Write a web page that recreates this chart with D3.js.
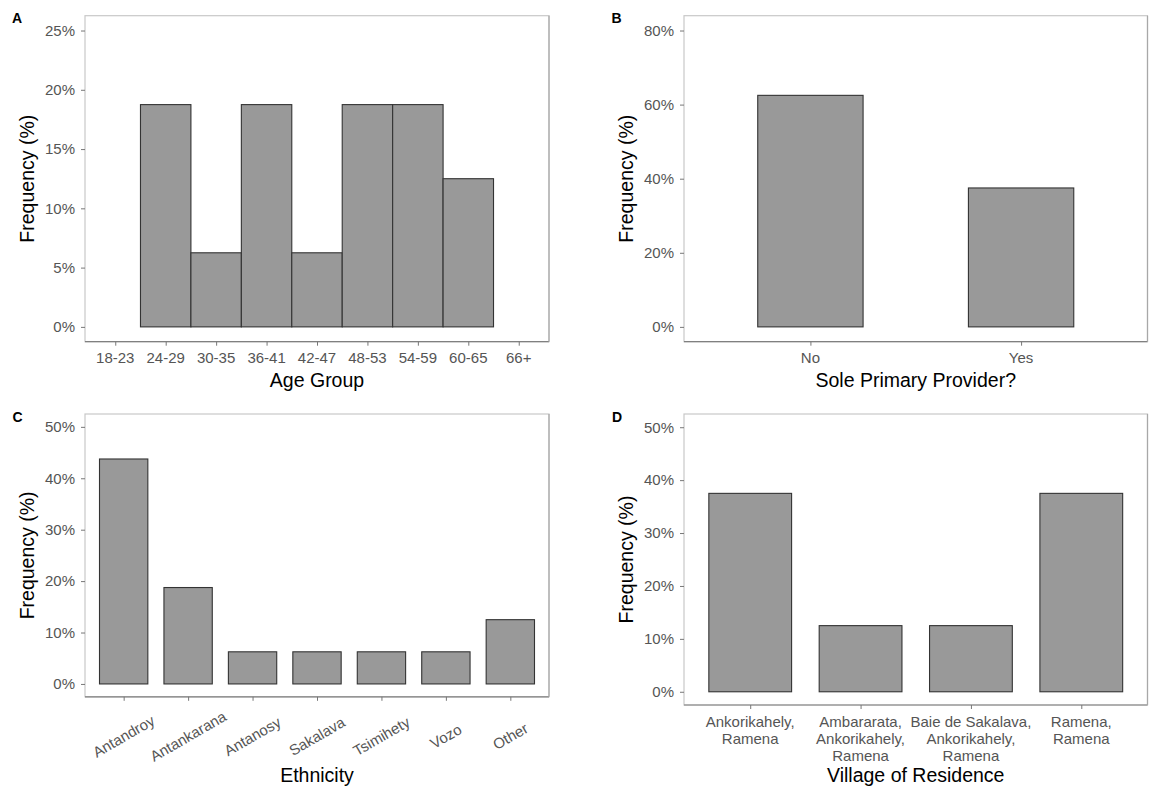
<!DOCTYPE html>
<html>
<head>
<meta charset="utf-8">
<script src="https://cdn.jsdelivr.net/npm/d3@7"></script>
<style>
  html, body { margin: 0; padding: 0; background: #fff; }
  svg { display: block; font-family: "Liberation Sans", Arial, sans-serif; }
</style>
</head>
<body>
<svg id="chart" width="1149" height="789"></svg>
<script>
// Age group distribution (%)
const ageGroups = ["18-23", "24-29", "30-35", "36-41", "42-47", "48-53", "54-59", "60-65", "66+"];
const agePct = [0, 18.75, 6.25, 18.75, 6.25, 18.75, 18.75, 12.5, 0];
const ageTicks = [0, 5, 10, 15, 20, 25];

// Sole primary provider (%)
const providerCats = ["No", "Yes"];
const providerPct = [62.5, 37.5];
const providerTicks = [0, 20, 40, 60, 80];

// Ethnicity (%)
const ethnicities = ["Antandroy", "Antankarana", "Antanosy", "Sakalava", "Tsimihety", "Vozo", "Other"];
const ethnicityPct = [43.75, 18.75, 6.25, 6.25, 6.25, 6.25, 12.5];
const ethnicityTicks = [0, 10, 20, 30, 40, 50];

// Village of residence (%), labels split over lines
const villages = [
  ["Ankorikahely,", "Ramena"],
  ["Ambararata,", "Ankorikahely,", "Ramena"],
  ["Baie de Sakalava,", "Ankorikahely,", "Ramena"],
  ["Ramena,", "Ramena"]
];
const villagePct = [37.5, 12.5, 12.5, 37.5];
const villageTicks = [0, 10, 20, 30, 40, 50];

const svg = d3.select("#chart");
const TICK_GREY = "#555";

function panel(cfg) {
  const { tag, cats, values, ticks, yMax, box, barWidth, xTitle, labelMode } = cfg;
  const g = svg.append("g");
  const keys = cats.map((c, i) => i);

  const x = d3.scalePoint().domain(keys).range([box.left, box.right]).padding(0.6);
  const pad = (box.bottom - box.top) * 0.05 / 1.1;
  const y = d3.scaleLinear().domain([0, yMax]).range([box.bottom - pad, box.top + pad]);
  const bw = x.step() * barWidth;

  // bars
  g.selectAll("rect.bar")
    .data(keys.filter(i => values[i] > 0))
    .join("rect")
    .attr("class", "bar")
    .attr("x", i => x(i) - bw / 2)
    .attr("y", i => y(values[i]))
    .attr("width", bw)
    .attr("height", i => y(0) - y(values[i]))
    .attr("fill", "#999999")
    .attr("stroke", "#333333")
    .attr("stroke-width", 1.1);

  // panel border
  g.append("rect")
    .attr("x", box.left).attr("y", box.top)
    .attr("width", box.right - box.left).attr("height", box.bottom - box.top)
    .attr("fill", "none").attr("stroke", "#c8c8c8").attr("stroke-width", 1.2);
  g.append("line")
    .attr("x1", box.left).attr("x2", box.right)
    .attr("y1", box.bottom).attr("y2", box.bottom)
    .attr("stroke", "#808080").attr("stroke-width", 1.2);
  g.append("line")
    .attr("x1", box.right).attr("x2", box.right)
    .attr("y1", box.top).attr("y2", box.bottom)
    .attr("stroke", "#a8a8a8").attr("stroke-width", 1.2);

  // y axis
  const yAxis = d3.axisLeft(y).tickValues(ticks).tickSize(4).tickPadding(6)
    .tickFormat(d => d + "%");
  const yg = g.append("g").attr("transform", `translate(${box.left},0)`).call(yAxis);
  yg.select(".domain").remove();
  yg.selectAll(".tick line").attr("stroke", "#777");
  yg.selectAll(".tick text").attr("fill", TICK_GREY).style("font-size", "15px")
    .style("font-family", "'Liberation Sans', Arial, sans-serif");

  // x axis
  const xAxis = d3.axisBottom(x).tickSize(4).tickFormat(() => "");
  const xg = g.append("g").attr("transform", `translate(0,${box.bottom})`).call(xAxis);
  xg.select(".domain").remove();
  xg.selectAll(".tick line").attr("stroke", "#777");
  xg.selectAll(".tick text").remove();

  const lab = g.append("g").attr("fill", TICK_GREY).style("font-size", "15px");
  if (labelMode === "plain") {
    lab.selectAll("text").data(keys).join("text")
      .attr("x", i => x(i)).attr("y", box.bottom + 21)
      .attr("text-anchor", "middle")
      .text(i => cats[i]);
  } else if (labelMode === "rotated") {
    lab.selectAll("text").data(keys).join("text")
      .attr("transform", i => `translate(${x(i)},${box.bottom + 39.5}) rotate(-30)`)
      .attr("text-anchor", "middle")
      .attr("dy", "0.35em")
      .text(i => cats[i]);
  } else if (labelMode === "multiline") {
    const t = lab.selectAll("text").data(keys).join("text")
      .attr("text-anchor", "middle");
    t.selectAll("tspan").data(i => cats[i].map(s => ({ s, i }))).join("tspan")
      .attr("x", d => x(d.i))
      .attr("y", (d, j) => box.bottom + 22 + j * 17)
      .text(d => d.s);
  }

  // axis titles
  g.append("text")
    .attr("x", (box.left + box.right) / 2).attr("y", cfg.xTitleY)
    .attr("text-anchor", "middle").attr("fill", "#000")
    .style("font-size", "19.5px")
    .text(xTitle);
  g.append("text")
    .attr("transform", `translate(${box.left - 58},${(box.top + box.bottom) / 2}) rotate(-90)`)
    .attr("text-anchor", "middle").attr("dy", "0.35em").attr("fill", "#000")
    .style("font-size", "19.5px")
    .text("Frequency (%)");

  // panel tag
  g.append("text")
    .attr("x", cfg.tagX).attr("y", box.top + 7.5)
    .attr("fill", "#000").style("font-size", "14px").style("font-weight", "bold")
    .text(tag);
}

panel({
  tag: "A", tagX: 12, cats: ageGroups, values: agePct, ticks: ageTicks, yMax: 25,
  box: { left: 85, right: 549, top: 15.7, bottom: 341.7 }, barWidth: 1,
  xTitle: "Age Group", xTitleY: 386.5, labelMode: "plain"
});
panel({
  tag: "B", tagX: 611.5, cats: providerCats, values: providerPct, ticks: providerTicks, yMax: 80,
  box: { left: 684, right: 1147.5, top: 15.7, bottom: 341.7 }, barWidth: 0.5,
  xTitle: "Sole Primary Provider?", xTitleY: 386.5, labelMode: "plain"
});
panel({
  tag: "C", tagX: 12.5, cats: ethnicities, values: ethnicityPct, ticks: ethnicityTicks, yMax: 50,
  box: { left: 85, right: 549, top: 414, bottom: 696.8 }, barWidth: 0.75,
  xTitle: "Ethnicity", xTitleY: 782, labelMode: "rotated"
});
panel({
  tag: "D", tagX: 612, cats: villages, values: villagePct, ticks: villageTicks, yMax: 50,
  box: { left: 684, right: 1147.5, top: 414, bottom: 705 }, barWidth: 0.75,
  xTitle: "Village of Residence", xTitleY: 782, labelMode: "multiline"
});
</script>
</body>
</html>
